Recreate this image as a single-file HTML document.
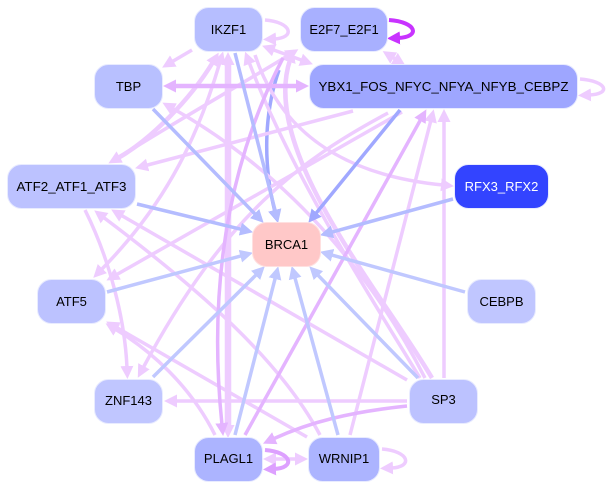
<!DOCTYPE html>
<html><head><meta charset="utf-8"><style>
html,body{margin:0;padding:0;background:#fff}
svg{display:block}
text{font-family:"Liberation Sans",sans-serif;font-size:13px;text-anchor:middle;fill:#000}
.e{fill:none;stroke-width:3.5}
</style></head><body>
<svg width="609" height="489" viewBox="0 0 609 489" xmlns="http://www.w3.org/2000/svg">
<defs>
<marker id="a" markerUnits="userSpaceOnUse" markerWidth="14" markerHeight="14" refX="2" refY="7" orient="auto-start-reverse"><path d="M0,0.500L13,7L0,13.500z" fill="#b4bcff"/></marker>
<marker id="b" markerUnits="userSpaceOnUse" markerWidth="14" markerHeight="14" refX="2" refY="7" orient="auto-start-reverse"><path d="M0,0.500L13,7L0,13.500z" fill="#c0c8ff"/></marker>
<marker id="c" markerUnits="userSpaceOnUse" markerWidth="14" markerHeight="14" refX="2" refY="7" orient="auto-start-reverse"><path d="M0,0.500L13,7L0,13.500z" fill="#a0a8ff"/></marker>
<marker id="p" markerUnits="userSpaceOnUse" markerWidth="14" markerHeight="14" refX="2" refY="7" orient="auto-start-reverse"><path d="M0,0.500L13,7L0,13.500z" fill="#eeccff"/></marker>
<marker id="q" markerUnits="userSpaceOnUse" markerWidth="14" markerHeight="14" refX="2" refY="7" orient="auto-start-reverse"><path d="M0,0.500L13,7L0,13.500z" fill="#e4b4ff"/></marker>
<marker id="r" markerUnits="userSpaceOnUse" markerWidth="14" markerHeight="14" refX="2" refY="7" orient="auto-start-reverse"><path d="M0,0.500L13,7L0,13.500z" fill="#c833ff"/></marker>
<marker id="s" markerUnits="userSpaceOnUse" markerWidth="14" markerHeight="14" refX="2" refY="7" orient="auto-start-reverse"><path d="M0,0.500L13,7L0,13.500z" fill="#dda0ff"/></marker>
</defs>
<g class="e" stroke="#a0a8ff" marker-end="url(#c)">
<path class="e" d="M279,70C265,110 262,160 275,212"/>
</g>
<g class="e" stroke="#eeccff" marker-end="url(#p)">
<path class="e" d="M192,50L171.600,62"/>
<path class="e" d="M272.400,49.500L302.600,60.500" marker-start="url(#p)"/>
<path class="e" d="M392,57L396,59.500" marker-start="url(#p)"/>
<path class="e" style="stroke-width:6.500" d="M228,63L228,427" marker-start="url(#p)"/>
<path class="e" d="M425,378C380,290 300,180 172,108"/>
<path class="e" d="M353,111L145.700,165.500"/>
<path class="e" d="M402,112L116,275"/>
<path class="e" d="M388,113C300,160 225,215 143,368"/>
<path class="e" d="M220,62C200,130 170,200 101,270" marker-start="url(#p)"/>
<path class="e" style="stroke-width:4.500" d="M213,62C190,100 150,140 118,158" marker-start="url(#p)"/>
<path class="e" d="M118,158C170,125 240,85 289,55"/>
<path class="e" style="stroke-width:4.500" d="M432,378C380,290 260,150 290,60"/>
<path class="e" d="M420,378C360,280 290,170 249,62"/>
<path class="e" d="M444,378L444,120"/>
<path class="e" d="M350,435L431,120"/>
<path class="e" d="M320,435C280,360 200,290 103,217"/>
<path class="e" d="M307,437L115.700,327"/>
<path class="e" d="M215,435C190,385 150,350 115,329"/>
<path class="e" d="M407,380L120.700,215"/>
<path class="e" d="M85,210C110,260 125,320 127,368"/>
<path class="e" d="M255,55C280,130 340,175 443,185"/>
<path class="e" d="M407,401L175,401"/>
<path class="e" d="M274,459L297,459" marker-start="url(#p)"/>
<path class="e" d="M265,20C292,22 296,38 274,39"/>
<path class="e" d="M580,79C607,81 612,94 589,95"/>
<path class="e" d="M382,449C409,451 414,467 391,468"/>
</g>
<g class="e" stroke="#e4b4ff" marker-end="url(#q)">
<path class="e" style="stroke-width:4.500" d="M174,86L298,86" marker-start="url(#q)"/>
<path class="e" d="M283,58C240,140 205,260 222,425"/>
<path class="e" d="M245,435L421,119"/>
<path class="e" d="M407,406C350,412 310,422 273,439"/>
</g>
<g class="e" stroke="#b4bcff" marker-end="url(#a)">
<path class="e" d="M235,53L275.500,212"/>
<path class="e" d="M153,109L256,215"/>
<path class="e" d="M137,204L242.300,229.600"/>
<path class="e" d="M235,435L275.500,277" stroke="#c0c8ff" marker-end="url(#b)"/>
<path class="e" d="M453,199L330.600,232.400"/>
</g>
<g class="e" stroke="#c0c8ff" marker-end="url(#b)">
<path class="e" d="M107,292L242.300,255.600"/>
<path class="e" d="M153,377L257,274"/>
<path class="e" d="M338,435L294.600,276.600"/>
<path class="e" d="M418,378L317,274.200"/>
<path class="e" d="M465,292L330.600,254.700"/>
</g>
<g class="e" stroke="#a0a8ff" marker-end="url(#c)">
<path class="e" d="M400,110L315.300,214.200"/>
</g>
<path class="e" stroke="#c833ff" style="stroke-width:4" marker-end="url(#r)" d="M389,20C417,22 421,37 398,38"/>
<path class="e" stroke="#dda0ff" style="stroke-width:4" marker-end="url(#s)" d="M265,450C292,452 296,468 274,469"/>
<g stroke="#e8ebff" stroke-width="1">
<rect x="194.500" y="7.500" width="68" height="44" rx="14" fill="#b6beff"/>
<rect x="300.500" y="7.500" width="87" height="44" rx="14" fill="#a8b0ff"/>
<rect x="94.500" y="64.500" width="68" height="44" rx="14" fill="#b8c0ff"/>
<rect x="309.500" y="64.500" width="268" height="44" rx="14" fill="#9ea6ff"/>
<rect x="7.500" y="164.500" width="128" height="44" rx="14" fill="#bcc2ff"/>
<rect x="454.500" y="164.500" width="94" height="44" rx="14" fill="#3344ff"/>
<rect x="252.500" y="222.500" width="68" height="44" rx="14" fill="#ffc8c8" stroke="#ffe0e0"/>
<rect x="37.500" y="279.500" width="68" height="44" rx="14" fill="#bcc2ff"/>
<rect x="467.500" y="279.500" width="68" height="44" rx="14" fill="#c0c6ff"/>
<rect x="94.500" y="379.500" width="68" height="44" rx="14" fill="#c0c6ff"/>
<rect x="409.500" y="379.500" width="68" height="44" rx="14" fill="#bcc2ff"/>
<rect x="194.500" y="437.500" width="68" height="44" rx="14" fill="#acb4ff"/>
<rect x="308.500" y="437.500" width="71" height="44" rx="14" fill="#acb4ff"/>
</g>
<text x="228.500" y="34">IKZF1</text>
<text x="344" y="34">E2F7_E2F1</text>
<text x="128.500" y="91">TBP</text>
<text x="443.500" y="91" textLength="250" lengthAdjust="spacingAndGlyphs">YBX1_FOS_NFYC_NFYA_NFYB_CEBPZ</text>
<text x="71.500" y="191" textLength="110" lengthAdjust="spacingAndGlyphs">ATF2_ATF1_ATF3</text>
<text x="501.500" y="191" style="fill:#fff">RFX3_RFX2</text>
<text x="286.500" y="249">BRCA1</text>
<text x="71.500" y="306">ATF5</text>
<text x="501.500" y="306">CEBPB</text>
<text x="128.500" y="405">ZNF143</text>
<text x="443.500" y="404">SP3</text>
<text x="228.500" y="463">PLAGL1</text>
<text x="344" y="463">WRNIP1</text>
</svg>
</body></html>
